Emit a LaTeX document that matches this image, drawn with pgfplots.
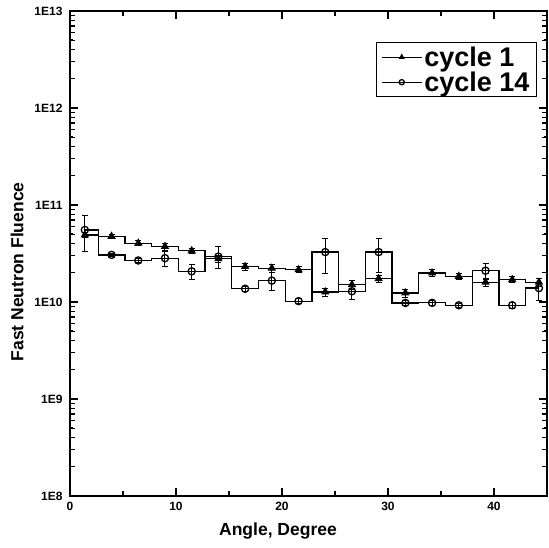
\documentclass[border=0pt]{standalone}
\usepackage{fontspec}
\setmainfont{Liberation Sans}
\usepackage{pgfplots}
\usepackage{pgfplotstable}
\pgfplotsset{compat=1.18}

\pgfplotstableread{
x y e
1.40 4.90e10 0.30e10
3.92 4.75e10 0.25e10
6.44 4.04e10 0.25e10
8.96 3.73e10 0.30e10
11.48 3.37e10 0.20e10
14.00 2.79e10 0.25e10
16.52 2.32e10 0.20e10
19.04 2.23e10 0.20e10
21.56 2.15e10 0.15e10
24.08 1.27e10 0.12e10
26.60 1.51e10 0.15e10
29.12 1.74e10 0.15e10
31.64 1.24e10 0.12e10
34.16 1.99e10 0.15e10
36.68 1.84e10 0.15e10
39.20 1.60e10 0.15e10
41.72 1.70e10 0.12e10
44.24 1.60e10 0.15e10
}\cyclea

\pgfplotstableread{
x y e
1.40 5.53e10 2.20e10
3.92 3.06e10 0.12e10
6.44 2.68e10 0.12e10
8.96 2.83e10 0.50e10
11.48 2.07e10 0.37e10
14.00 2.94e10 0.75e10
16.52 1.37e10 0.08e10
19.04 1.66e10 0.34e10
21.56 1.02e10 0.06e10
24.08 3.27e10 1.28e10
26.60 1.29e10 0.22e10
29.12 3.27e10 1.25e10
31.64 0.977e10 0.06e10
34.16 0.98e10 0.05e10
36.68 0.925e10 0.05e10
39.20 2.10e10 0.40e10
41.72 0.925e10 0.06e10
44.24 1.39e10 0.35e10
}\cycleb

\begin{document}
\begin{tikzpicture}
% minor ticks drawn as the major ticks of a bare second axis
\begin{axis}[
  at={(70bp,52bp)}, anchor=south west,
  width=477bp, height=485bp, scale only axis,
  xmin=0, xmax=45, ymode=log, ymin=1e8, ymax=1e13,
  axis line style={line width=1.6bp},
  every tick/.style={line width=1.3bp, black},
  tick align=inside,
  major tick length=5bp,
  xtick={5,15,25,35}, xticklabels={},
  ytick={2e8,3e8,4e8,5e8,6e8,7e8,8e8,9e8,
    2e9,3e9,4e9,5e9,6e9,7e9,8e9,9e9,
    2e10,3e10,4e10,5e10,6e10,7e10,8e10,9e10,
    2e11,3e11,4e11,5e11,6e11,7e11,8e11,9e11,
    2e12,3e12,4e12,5e12,6e12,7e12,8e12,9e12},
  yticklabels={},
]
\addplot[draw=none, forget plot] coordinates {(0,1e8) (45,1e13)};
\end{axis}
\begin{axis}[
  at={(70bp,52bp)}, anchor=south west,
  width=477bp, height=485bp, scale only axis,
  xmin=0, xmax=45, ymode=log, ymin=1e8, ymax=1e13,
  axis line style={line width=1.6bp},
  every tick/.style={line width=1.4bp, black},
  tick align=inside,
  major tick length=8bp,
  xtick={0,10,20,30,40},
  xticklabels={0,10,20,30,40},
  ytick={1e8,1e9,1e10,1e11,1e12,1e13},
  yticklabels={1E8,1E9,1E10,1E11,1E12,1E13},
  xticklabel style={font=\bfseries\fontsize{12bp}{13bp}\selectfont, yshift=-3bp},
  yticklabel style={font=\bfseries\fontsize{12bp}{13bp}\selectfont, xshift=-4bp},
  xlabel={Angle, Degree}, ylabel={Fast Neutron Fluence},
  label style={font=\bfseries\fontsize{17.5bp}{20bp}\selectfont},
  xlabel style={at={(axis description cs:0.436,-0.072)}, anchor=center},
  ylabel style={at={(axis description cs:-0.111,0.462)}, anchor=center},
  legend style={at={(axis description cs:0.979,0.936)}, anchor=north east,
    draw=black, line width=1.2bp, font=\bfseries\fontsize{27bp}{29bp}\selectfont,
    inner xsep=5bp, inner ysep=2bp, row sep=0bp},
  legend cell align=left,
  legend image code/.code={
    \draw[#1, mark=none, line width=1.1bp] (-2bp,0bp) -- (38bp,0bp);
    \path[#1, mark size=2.6bp, line width=1bp] plot coordinates {(18bp,0bp)};
  },
]
\addplot[black, line width=1.3bp, const plot mark mid, mark=triangle*, mark size=3.6bp,
  mark options={solid, fill=black},
  error bars/.cd, y dir=both, y explicit,
  error bar style={line width=1bp, black},
  error mark options={rotate=90, mark size=3bp, line width=1bp}]
  table[x=x, y=y, y error=e] {\cyclea};
\addlegendentry{cycle 1}
\addplot[black, line width=1.3bp, const plot mark mid, mark=o, mark size=3.6bp,
  mark options={solid, fill=white, line width=1.3bp},
  error bars/.cd, y dir=both, y explicit,
  error bar style={line width=1bp, black},
  error mark options={rotate=90, mark size=3bp, line width=1bp}]
  table[x=x, y=y, y error=e] {\cycleb};
\addlegendentry{cycle 14}
\end{axis}
\pgfresetboundingbox
\path[use as bounding box] (0,0) rectangle (549bp,548bp);
\end{tikzpicture}
\end{document}
